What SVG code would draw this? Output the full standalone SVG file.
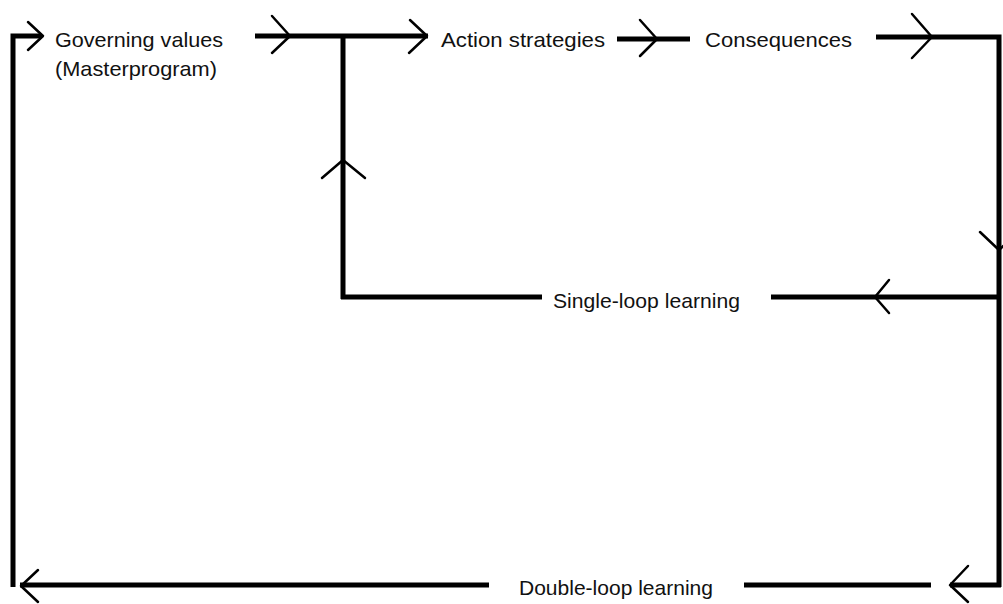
<svg xmlns="http://www.w3.org/2000/svg" width="1003" height="604" viewBox="0 0 1003 604">
  <style>
    .line { fill: none; stroke: #000; stroke-width: 5; stroke-linecap: butt; stroke-linejoin: miter; }
    .head { fill: none; stroke: #000; stroke-width: 2.5; stroke-linecap: round; stroke-linejoin: round; }
    .label { font-family: "Liberation Sans", Arial, sans-serif; font-size: 21px; fill: #111; }
  </style>
  <rect x="0" y="0" width="1003" height="604" fill="#fff"/>

  <g id="connectors">
    <!-- double-loop outer path: left vertical up to governing values -->
    <path class="line" d="M13,587 V36 H42"/>
    <path class="head" d="M28,22 L43,36 L28,50"/>

    <!-- governing values -> action strategies -->
    <path class="line" d="M255,36 H428"/>
    <path class="head" d="M272,16 L290,36 L272,53"/>
    <path class="head" d="M410,20 L427,36 L409,53"/>

    <!-- single-loop vertical return -->
    <path class="line" d="M343,36 V299"/>
    <path class="head" d="M322,178 L343,160 L365,178"/>
    <path class="line" d="M341,297 H542"/>

    <!-- single-loop right segment -->
    <path class="line" d="M771,297 H999"/>
    <path class="head" d="M889,280 L875,297 L889,313"/>

    <!-- action strategies -> consequences -->
    <path class="line" d="M617,39 H690"/>
    <path class="head" d="M640,20 L657,39 L640,56"/>

    <!-- consequences -> right vertical -->
    <path class="line" d="M876,37 H999 V587"/>
    <path class="head" d="M912,14 L932,37 L912,58"/>
    <path class="head" d="M980,232 L999,250 L1018,232"/>

    <!-- double-loop bottom -->
    <path class="line" d="M950,585 H1001"/>
    <path class="line" d="M744,585 H931"/>
    <path class="head" d="M968,566 L950,585 L968,602"/>
    <path class="line" d="M20,585 H489"/>
    <path class="head" d="M38,570 L21,586 L38,602"/>
  </g>

  <g id="node-governing-values">
    <text class="label" x="55" y="47" textLength="168" lengthAdjust="spacingAndGlyphs">Governing values</text>
    <text class="label" x="55" y="76" textLength="162" lengthAdjust="spacingAndGlyphs">(Masterprogram)</text>
  </g>
  <g id="node-action-strategies">
    <text class="label" x="441" y="47" textLength="164" lengthAdjust="spacingAndGlyphs">Action strategies</text>
  </g>
  <g id="node-consequences">
    <text class="label" x="705" y="47" textLength="147" lengthAdjust="spacingAndGlyphs">Consequences</text>
  </g>
  <g id="node-single-loop">
    <text class="label" x="553" y="308" textLength="187" lengthAdjust="spacingAndGlyphs">Single-loop learning</text>
  </g>
  <g id="node-double-loop">
    <text class="label" x="519" y="595" textLength="194" lengthAdjust="spacingAndGlyphs">Double-loop learning</text>
  </g>
</svg>
